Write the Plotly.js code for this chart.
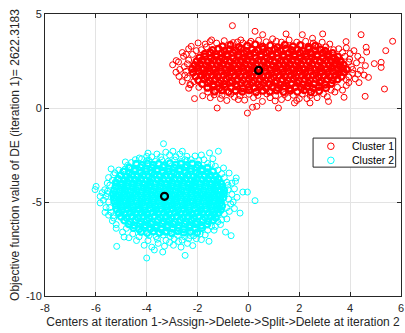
<!DOCTYPE html>
<html>
<head>
<meta charset="utf-8">
<script src="https://cdn.plot.ly/plotly-3.0.1.min.js"></script>
<style>html,body{margin:0;padding:0;background:#fff;}#chart{width:405px;height:333px;}</style>
</head>
<body>
<div id="chart"></div>
<script>
// Cluster 1: dense core points [x, y]
const cluster1Core = [
[-1.02,3.28],[-0.71,3.35],[-0.38,3.24],[-0.05,3.31],[0.27,3.38],[0.55,3.26],[0.86,3.33],[1.14,3.22],[1.43,3.36],[1.75,3.27],[2.04,3.34],[2.36,3.25],[2.63,3.31],
[-1.41,3.08],[-1.18,3.15],[-0.95,3.04],[-0.74,3.12],[-0.52,3.06],[-0.29,3.16],[-0.08,3.03],[0.14,3.11],[0.37,3.07],[0.58,3.14],[0.81,3.02],[1.03,3.13],[1.26,3.05],[1.47,3.16],[1.69,3.08],[1.92,3.12],[2.15,3.03],[2.38,3.14],[2.61,3.07],[2.84,3.11],[3.02,3.04],
[-1.72,2.88],[-1.49,2.94],[-1.27,2.85],[-1.06,2.92],[-0.84,2.87],[-0.61,2.95],[-0.40,2.84],[-0.18,2.91],[0.05,2.88],[0.26,2.96],[0.49,2.85],[0.71,2.93],[0.92,2.87],[1.15,2.95],[1.37,2.84],[1.58,2.92],[1.81,2.86],[2.03,2.94],[2.26,2.88],[2.47,2.91],[2.70,2.85],[2.92,2.93],[3.13,2.87],[3.31,2.92],
[-1.93,2.68],[-1.71,2.74],[-1.48,2.66],[-1.26,2.72],[-1.05,2.67],[-0.83,2.75],[-0.60,2.64],[-0.39,2.71],[-0.17,2.68],[0.06,2.74],[0.28,2.65],[0.50,2.73],[0.72,2.67],[0.93,2.75],[1.16,2.64],[1.38,2.72],[1.60,2.68],[1.83,2.74],[2.04,2.66],[2.27,2.72],[2.49,2.69],[2.71,2.75],[2.93,2.65],[3.15,2.71],[3.36,2.68],[3.52,2.73],
[-2.04,2.48],[-1.82,2.54],[-1.59,2.46],[-1.37,2.53],[-1.15,2.47],[-0.94,2.55],[-0.71,2.45],[-0.49,2.52],[-0.28,2.48],[-0.05,2.54],[0.17,2.46],[0.39,2.53],[0.61,2.47],[0.83,2.55],[1.05,2.44],[1.27,2.52],[1.49,2.48],[1.72,2.54],[1.94,2.46],[2.16,2.53],[2.38,2.47],[2.60,2.55],[2.82,2.45],[3.04,2.52],[3.26,2.48],[3.47,2.53],[3.63,2.46],
[-2.12,2.28],[-1.90,2.34],[-1.67,2.26],[-1.45,2.33],[-1.23,2.27],[-1.01,2.35],[-0.79,2.25],[-0.57,2.32],[-0.35,2.28],[-0.13,2.34],[0.09,2.26],[0.31,2.33],[0.53,2.27],[0.75,2.35],[0.97,2.24],[1.19,2.32],[1.41,2.28],[1.63,2.34],[1.85,2.26],[2.07,2.33],[2.29,2.27],[2.51,2.35],[2.73,2.25],[2.95,2.32],[3.17,2.28],[3.39,2.34],[3.58,2.26],[3.74,2.31],
[-2.21,2.08],[-1.98,2.14],[-1.76,2.06],[-1.54,2.13],[-1.32,2.07],[-1.10,2.15],[-0.88,2.05],[-0.66,2.12],[-0.44,2.08],[-0.22,2.14],[0.00,2.06],[0.22,2.13],[0.44,2.07],[0.66,2.15],[0.88,2.04],[1.10,2.12],[1.32,2.08],[1.54,2.14],[1.76,2.06],[1.98,2.13],[2.20,2.07],[2.42,2.15],[2.64,2.05],[2.86,2.12],[3.08,2.08],[3.30,2.14],[3.52,2.06],[3.71,2.11],[3.86,2.05],
[-2.18,1.88],[-1.96,1.94],[-1.73,1.86],[-1.51,1.93],[-1.29,1.87],[-1.07,1.95],[-0.85,1.85],[-0.63,1.92],[-0.41,1.88],[-0.19,1.94],[0.03,1.86],[0.25,1.93],[0.47,1.87],[0.69,1.95],[0.91,1.84],[1.13,1.92],[1.35,1.88],[1.57,1.94],[1.79,1.86],[2.01,1.93],[2.23,1.87],[2.45,1.95],[2.67,1.85],[2.89,1.92],[3.11,1.88],[3.33,1.94],[3.55,1.86],[3.76,1.91],
[-2.08,1.68],[-1.86,1.74],[-1.64,1.66],[-1.42,1.73],[-1.20,1.67],[-0.98,1.75],[-0.76,1.65],[-0.54,1.72],[-0.32,1.68],[-0.10,1.74],[0.12,1.66],[0.34,1.73],[0.56,1.67],[0.78,1.75],[1.00,1.64],[1.22,1.72],[1.44,1.68],[1.66,1.74],[1.88,1.66],[2.10,1.73],[2.32,1.67],[2.54,1.75],[2.76,1.65],[2.98,1.72],[3.20,1.68],[3.42,1.74],[3.66,1.67],
[-1.97,1.48],[-1.75,1.54],[-1.53,1.46],[-1.31,1.53],[-1.09,1.47],[-0.87,1.55],[-0.65,1.45],[-0.43,1.52],[-0.21,1.48],[0.01,1.54],[0.23,1.46],[0.45,1.53],[0.67,1.47],[0.89,1.55],[1.11,1.44],[1.33,1.52],[1.55,1.48],[1.77,1.54],[1.99,1.46],[2.21,1.53],[2.43,1.47],[2.65,1.55],[2.87,1.45],[3.09,1.52],[3.31,1.48],[3.50,1.53],
[-1.82,1.28],[-1.60,1.34],[-1.38,1.26],[-1.16,1.33],[-0.94,1.27],[-0.72,1.35],[-0.50,1.25],[-0.28,1.32],[-0.06,1.28],[0.16,1.34],[0.38,1.26],[0.60,1.33],[0.82,1.27],[1.04,1.35],[1.26,1.24],[1.48,1.32],[1.70,1.28],[1.92,1.34],[2.14,1.26],[2.36,1.33],[2.58,1.27],[2.80,1.35],[3.02,1.25],[3.27,1.31],
[-1.61,1.08],[-1.37,1.14],[-1.14,1.06],[-0.91,1.13],[-0.68,1.07],[-0.45,1.15],[-0.22,1.05],[0.01,1.12],[0.24,1.08],[0.47,1.14],[0.70,1.06],[0.93,1.13],[1.16,1.07],[1.39,1.15],[1.62,1.04],[1.85,1.12],[2.08,1.08],[2.31,1.14],[2.54,1.06],[2.77,1.13],[3.05,1.07],
[-1.33,0.88],[-1.05,0.94],[-0.78,0.86],[-0.51,0.93],[-0.24,0.87],[0.03,0.95],[0.30,0.85],[0.57,0.92],[0.84,0.88],[1.11,0.94],[1.38,0.86],[1.65,0.93],[1.92,0.87],[2.19,0.95],[2.46,0.85],[2.78,0.91]
];
// Cluster 1: fringe and outlier points [x, y]
const cluster1Outer = [
[-1.04,0.68],[-0.69,0.74],[-0.33,0.66],[0.02,0.73],[0.37,0.67],[0.72,0.75],[1.07,0.65],[1.42,0.72],[1.77,0.68],[2.12,0.74],[2.43,0.66],
[-1.45,3.62],[-0.95,3.58],[-0.60,3.48],[-0.30,3.62],[0.05,3.45],[0.40,3.60],[0.70,3.52],[0.95,3.68],[1.30,3.50],[1.60,3.62],[2.25,3.55],[2.55,3.45],[2.75,3.28],[3.05,3.25],[3.35,3.10],[-1.85,3.10],[-1.70,3.40],
[-1.60,0.85],[-1.35,0.70],[-1.10,0.50],[-0.55,0.58],[-0.15,0.42],[0.20,0.55],[0.85,0.55],[1.05,0.38],[1.55,0.55],[1.90,0.40],[2.30,0.50],[2.60,0.80],[2.95,0.75],[3.25,0.95],[3.50,1.10],[-1.95,1.10],[-2.15,1.40],
[-2.40,2.35],[-2.50,1.75],[-2.35,1.05],[-2.75,2.45],[-2.60,2.95],[-2.35,3.15],[-2.85,1.90],[-2.45,2.85],
[3.80,2.75],[3.95,2.45],[4.10,2.05],[3.95,1.65],[3.85,1.20],[4.30,2.75],[4.35,1.35],[4.15,3.05],[3.70,2.95],[3.85,1.50],[4.45,2.55],[4.30,1.80],
[-2.45,1.95],[-2.52,2.20],[-2.40,1.60],[-2.60,1.40],[-2.35,2.55],[-2.55,2.75],[-2.70,2.05],[-2.30,1.25],[4.05,2.20],[4.10,1.85],[3.98,2.60],[4.25,2.40],[4.20,1.55],[4.40,2.00],[3.95,1.35],[4.00,2.90],[3.85,3.20],[3.70,0.95],[3.40,0.85],[3.55,3.15],[4.55,1.75],[4.60,2.25],[3.20,3.40],[2.90,3.50],[-1.80,0.65],[-1.50,0.55],[-0.85,0.40],[-0.40,0.45],[0.55,0.35],[1.30,0.45],[2.00,0.50],[2.70,0.55],[3.10,0.60],[-1.25,3.45],[-1.65,3.25],[0.10,3.55],[1.10,3.55],[1.90,3.50],[-2.05,3.05],[-2.20,2.85],
[-0.63,4.38],[0.26,4.08],[0.56,3.90],[1.48,3.94],[2.12,3.90],[2.92,3.94],[4.43,3.90],[5.67,3.55],[5.40,3.05],[4.63,3.23],[4.65,2.98],[3.84,3.53],[2.52,3.71],[4.95,2.36],[5.22,2.43],[5.22,2.16],[4.72,1.63],[5.35,1.01],[4.59,0.62],[3.76,0.57],[3.15,0.35],[2.42,0.27],[1.81,0.27],[1.18,0.00],[0.33,0.09],[0.16,0.04],[-0.04,-0.27],[-1.23,0.00],[-2.12,0.50],[-2.27,1.24],[-2.73,1.68],[-2.98,2.30],[-2.84,2.52],[-2.25,3.28],[-1.98,3.46],[-1.51,3.53],[-0.43,3.51],[-0.22,3.46]
];
// Cluster 2: dense core points [x, y]
const cluster2Core = [
[-4.41,-2.98],[-4.19,-3.04],[-3.97,-2.96],[-3.75,-3.03],[-3.53,-2.97],[-3.31,-3.05],[-3.09,-2.95],[-2.87,-3.02],[-2.65,-2.98],[-2.43,-3.04],[-2.21,-2.96],[-1.98,-3.03],
[-4.68,-3.18],[-4.46,-3.24],[-4.24,-3.16],[-4.02,-3.23],[-3.80,-3.17],[-3.58,-3.25],[-3.36,-3.15],[-3.14,-3.22],[-2.92,-3.18],[-2.70,-3.24],[-2.48,-3.16],[-2.26,-3.23],[-2.04,-3.17],[-1.82,-3.25],[-1.61,-3.19],
[-4.91,-3.38],[-4.69,-3.44],[-4.47,-3.36],[-4.25,-3.43],[-4.03,-3.37],[-3.81,-3.45],[-3.59,-3.35],[-3.37,-3.42],[-3.15,-3.38],[-2.93,-3.44],[-2.71,-3.36],[-2.49,-3.43],[-2.27,-3.37],[-2.05,-3.45],[-1.83,-3.35],[-1.61,-3.42],[-1.40,-3.38],
[-5.02,-3.58],[-4.80,-3.64],[-4.58,-3.56],[-4.36,-3.63],[-4.14,-3.57],[-3.92,-3.65],[-3.70,-3.55],[-3.48,-3.62],[-3.26,-3.58],[-3.04,-3.64],[-2.82,-3.56],[-2.60,-3.63],[-2.38,-3.57],[-2.16,-3.65],[-1.94,-3.55],[-1.72,-3.62],[-1.50,-3.58],[-1.29,-3.63],
[-5.11,-3.78],[-4.89,-3.84],[-4.67,-3.76],[-4.45,-3.83],[-4.23,-3.77],[-4.01,-3.85],[-3.79,-3.75],[-3.57,-3.82],[-3.35,-3.78],[-3.13,-3.84],[-2.91,-3.76],[-2.69,-3.83],[-2.47,-3.77],[-2.25,-3.85],[-2.03,-3.75],[-1.81,-3.82],[-1.59,-3.78],[-1.37,-3.84],[-1.18,-3.77],
[-5.19,-3.98],[-4.97,-4.04],[-4.75,-3.96],[-4.53,-4.03],[-4.31,-3.97],[-4.09,-4.05],[-3.87,-3.95],[-3.65,-4.02],[-3.43,-3.98],[-3.21,-4.04],[-2.99,-3.96],[-2.77,-4.03],[-2.55,-3.97],[-2.33,-4.05],[-2.11,-3.95],[-1.89,-4.02],[-1.67,-3.98],[-1.45,-4.04],[-1.23,-3.96],[-1.08,-4.03],
[-5.22,-4.18],[-5.00,-4.24],[-4.78,-4.16],[-4.56,-4.23],[-4.34,-4.17],[-4.12,-4.25],[-3.90,-4.15],[-3.68,-4.22],[-3.46,-4.18],[-3.24,-4.24],[-3.02,-4.16],[-2.80,-4.23],[-2.58,-4.17],[-2.36,-4.25],[-2.14,-4.15],[-1.92,-4.22],[-1.70,-4.18],[-1.48,-4.24],[-1.26,-4.16],[-1.03,-4.21],
[-5.28,-4.38],[-5.06,-4.44],[-4.84,-4.36],[-4.62,-4.43],[-4.40,-4.37],[-4.18,-4.45],[-3.96,-4.35],[-3.74,-4.42],[-3.52,-4.38],[-3.30,-4.44],[-3.08,-4.36],[-2.86,-4.43],[-2.64,-4.37],[-2.42,-4.45],[-2.20,-4.35],[-1.98,-4.42],[-1.76,-4.38],[-1.54,-4.44],[-1.32,-4.36],[-1.10,-4.43],[-0.96,-4.38],
[-5.31,-4.58],[-5.09,-4.64],[-4.87,-4.56],[-4.65,-4.63],[-4.43,-4.57],[-4.21,-4.65],[-3.99,-4.55],[-3.77,-4.62],[-3.55,-4.58],[-3.33,-4.64],[-3.11,-4.56],[-2.89,-4.63],[-2.67,-4.57],[-2.45,-4.65],[-2.23,-4.55],[-2.01,-4.62],[-1.79,-4.58],[-1.57,-4.64],[-1.35,-4.56],[-1.13,-4.63],[-0.97,-4.57],
[-5.29,-4.78],[-5.07,-4.84],[-4.85,-4.76],[-4.63,-4.83],[-4.41,-4.77],[-4.19,-4.85],[-3.97,-4.75],[-3.75,-4.82],[-3.53,-4.78],[-3.31,-4.84],[-3.09,-4.76],[-2.87,-4.83],[-2.65,-4.77],[-2.43,-4.85],[-2.21,-4.75],[-1.99,-4.82],[-1.77,-4.78],[-1.55,-4.84],[-1.33,-4.76],[-1.11,-4.83],[-0.99,-4.77],
[-5.27,-4.98],[-5.05,-5.04],[-4.83,-4.96],[-4.61,-5.03],[-4.39,-4.97],[-4.17,-5.05],[-3.95,-4.95],[-3.73,-5.02],[-3.51,-4.98],[-3.29,-5.04],[-3.07,-4.96],[-2.85,-5.03],[-2.63,-4.97],[-2.41,-5.05],[-2.19,-4.95],[-1.97,-5.02],[-1.75,-4.98],[-1.53,-5.04],[-1.31,-4.96],[-1.09,-5.03],
[-5.21,-5.18],[-4.99,-5.24],[-4.77,-5.16],[-4.55,-5.23],[-4.33,-5.17],[-4.11,-5.25],[-3.89,-5.15],[-3.67,-5.22],[-3.45,-5.18],[-3.23,-5.24],[-3.01,-5.16],[-2.79,-5.23],[-2.57,-5.17],[-2.35,-5.25],[-2.13,-5.15],[-1.91,-5.22],[-1.69,-5.18],[-1.47,-5.24],[-1.25,-5.16],[-1.04,-5.21],
[-5.18,-5.38],[-4.96,-5.44],[-4.74,-5.36],[-4.52,-5.43],[-4.30,-5.37],[-4.08,-5.45],[-3.86,-5.35],[-3.64,-5.42],[-3.42,-5.38],[-3.20,-5.44],[-2.98,-5.36],[-2.76,-5.43],[-2.54,-5.37],[-2.32,-5.45],[-2.10,-5.35],[-1.88,-5.42],[-1.66,-5.38],[-1.44,-5.44],[-1.22,-5.36],[-1.09,-5.42],
[-5.09,-5.58],[-4.87,-5.64],[-4.65,-5.56],[-4.43,-5.63],[-4.21,-5.57],[-3.99,-5.65],[-3.77,-5.55],[-3.55,-5.62],[-3.33,-5.58],[-3.11,-5.64],[-2.89,-5.56],[-2.67,-5.63],[-2.45,-5.57],[-2.23,-5.65],[-2.01,-5.55],[-1.79,-5.62],[-1.57,-5.58],[-1.35,-5.64],[-1.18,-5.57],
[-5.01,-5.78],[-4.79,-5.84],[-4.57,-5.76],[-4.35,-5.83],[-4.13,-5.77],[-3.91,-5.85],[-3.69,-5.75],[-3.47,-5.82],[-3.25,-5.78],[-3.03,-5.84],[-2.81,-5.76],[-2.59,-5.83],[-2.37,-5.77],[-2.15,-5.85],[-1.93,-5.75],[-1.71,-5.82],[-1.49,-5.78],[-1.29,-5.83],
[-4.88,-5.98],[-4.66,-6.04],[-4.44,-5.96],[-4.22,-6.03],[-4.00,-5.97],[-3.78,-6.05],[-3.56,-5.95],[-3.34,-6.02],[-3.12,-5.98],[-2.90,-6.04],[-2.68,-5.96],[-2.46,-6.03],[-2.24,-5.97],[-2.02,-6.05],[-1.80,-5.95],[-1.58,-6.02],[-1.39,-5.97],
[-4.71,-6.18],[-4.49,-6.24],[-4.27,-6.16],[-4.05,-6.23],[-3.83,-6.17],[-3.61,-6.25],[-3.39,-6.15],[-3.17,-6.22],[-2.95,-6.18],[-2.73,-6.24],[-2.51,-6.16],[-2.29,-6.23],[-2.07,-6.17],[-1.85,-6.25],[-1.62,-6.19],
[-4.52,-6.38],[-4.30,-6.44],[-4.08,-6.36],[-3.86,-6.43],[-3.64,-6.37],[-3.42,-6.45],[-3.20,-6.35],[-2.98,-6.42],[-2.76,-6.38],[-2.54,-6.44],[-2.32,-6.36],[-2.10,-6.43],[-1.83,-6.38],
[-4.22,-6.58],[-3.98,-6.64],[-3.74,-6.56],[-3.50,-6.63],[-3.26,-6.57],[-3.02,-6.65],[-2.78,-6.55],[-2.54,-6.62],[-2.28,-6.58],[-2.02,-6.63]
];
// Cluster 2: fringe and outlier points [x, y]
const cluster2Outer = [
[-3.92,-2.78],[-3.66,-2.84],[-3.41,-2.76],[-3.15,-2.83],[-2.90,-2.77],[-2.64,-2.85],[-2.41,-2.79],
[-3.91,-6.78],[-3.63,-6.84],[-3.35,-6.76],[-3.07,-6.83],[-2.79,-6.77],[-2.51,-6.85],[-2.28,-6.79],
[-3.58,-6.98],[-3.24,-7.04],[-2.92,-6.96],[-2.61,-7.03],
[-4.60,-2.90],[-4.20,-2.70],[-3.80,-2.60],[-3.45,-2.60],[-3.25,-2.35],[-2.85,-2.60],[-2.50,-2.75],[-2.25,-2.75],[-1.95,-2.80],[-1.60,-2.95],[-1.30,-3.10],[-4.85,-3.25],[-3.95,-2.40],[-2.60,-2.30],[-1.85,-2.50],[-1.40,-2.70],
[-4.55,-6.70],[-4.30,-6.85],[-3.95,-7.05],[-3.55,-7.20],[-3.10,-7.15],[-2.75,-7.10],[-2.35,-6.95],[-2.15,-6.80],[-1.90,-6.70],[-1.60,-6.50],[-1.45,-6.30],[-4.80,-6.40],[-3.70,-7.55],[-2.65,-7.40],[-1.85,-7.00],
[-5.45,-4.10],[-5.55,-4.55],[-5.50,-5.00],[-5.40,-5.55],[-5.30,-5.85],[-5.35,-3.85],[-5.20,-6.20],[-5.70,-4.90],[-5.75,-4.50],[-5.60,-5.30],[-5.25,-3.45],
[-0.85,-3.95],[-0.80,-4.35],[-0.78,-4.85],[-0.85,-5.30],[-0.95,-5.65],[-1.05,-5.95],[-1.20,-6.05],[-0.60,-5.00],[-0.55,-5.35],[-1.05,-3.50],[-0.65,-4.00],[-0.45,-4.75],[-1.30,-6.30],
[-5.55,-4.00],[-5.60,-4.70],[-5.45,-5.30],[-5.50,-3.70],[-5.35,-6.00],[-5.20,-6.40],[-4.95,-6.60],[-4.70,-6.90],[-4.40,-7.05],[-4.10,-7.30],[-3.80,-7.40],[-3.30,-7.35],[-2.95,-7.30],[-2.40,-7.20],[-2.05,-6.95],[-1.70,-6.75],[-1.35,-6.50],[-1.10,-6.20],[-0.85,-5.90],[-0.75,-5.50],[-0.70,-5.10],[-0.65,-4.60],[-0.80,-4.10],[-0.95,-3.70],[-1.20,-3.30],[-1.45,-3.00],[-1.75,-2.75],[-2.10,-2.55],[-2.70,-2.45],[-3.10,-2.50],[-3.60,-2.45],[-4.00,-2.80],[-4.45,-2.75],[-4.75,-3.05],[-5.10,-3.30],[-5.30,-3.55],[-5.65,-4.35],[-5.50,-5.70],[-0.90,-6.60],[-0.55,-4.30],
[-3.34,-1.90],[-2.97,-2.30],[-1.18,-2.30],[-1.53,-2.39],[-2.42,-2.57],[-4.00,-2.57],[-4.29,-2.66],[-5.40,-3.24],[-4.84,-2.87],[-5.99,-4.17],[-6.03,-4.34],[-5.83,-4.70],[-5.83,-5.05],[-5.64,-5.55],[-5.31,-5.73],[-5.18,-7.36],[-4.89,-6.86],[-4.00,-7.98],[-3.37,-7.66],[-2.49,-7.84],[-2.19,-7.32],[-1.55,-7.09],[-0.68,-6.79],[-0.33,-5.59],[0.26,-4.93],[-0.04,-4.47],[-0.22,-4.47],[-0.51,-3.90],[-0.48,-3.72],[-0.76,-3.46],[-0.98,-3.19],[-5.54,-4.43],[-5.24,-3.95]
];
const centersX = [0.4, -3.3];
const centersY = [2.0, -4.7];
const seriesNames = ["Cluster 1", "Cluster 2"];
const seriesColors = ['#ff0000', '#00ffff'];
const xTicks = [-8, -6, -4, -2, 0, 2, 4, 6];
const yTicks = [-10, -5, 0, 5];

const mk = (color, lw) => ({symbol: 'circle-open', size: 6, color: color, line: {width: lw, color: color}});
const pts = (arr, color, lw) => ({type: 'scatter', mode: 'markers', showlegend: false,
  x: arr.map(p => p[0]), y: arr.map(p => p[1]), marker: mk(color, lw)});
const traces = [
  pts(cluster1Core, seriesColors[0], 2.3),
  pts(cluster1Outer, seriesColors[0], 1),
  pts(cluster2Core, seriesColors[1], 2.3),
  pts(cluster2Outer, seriesColors[1], 1),
  {type: 'scatter', mode: 'markers', showlegend: false, x: centersX, y: centersY,
   marker: {symbol: 'circle-open', size: 7, color: '#000', line: {width: 2.2, color: '#000'}}}
];
const font = {family: 'Liberation Sans, Arial, sans-serif', size: 11, color: '#262626'};
const axisCommon = {
  showline: true, linecolor: '#262626', linewidth: 1, mirror: 'ticks',
  ticks: 'inside', ticklen: 4, tickcolor: '#262626',
  showgrid: true, gridcolor: '#e3e3e3', gridwidth: 1, zeroline: false,
  tickfont: font, tickmode: 'array'
};
// legend box drawn in paper coordinates
const legX0 = 0.753, legX1 = 0.985, legY0 = 0.457, legY1 = 0.560;
const legRows = [0.531, 0.481];
const shapes = [
  {type: 'rect', xref: 'paper', yref: 'paper', x0: legX0, x1: legX1, y0: legY0, y1: legY1,
   line: {color: '#262626', width: 1}, fillcolor: '#ffffff', layer: 'above'}
];
const annotations = [];
seriesNames.forEach((name, i) => {
  shapes.push({type: 'circle', xref: 'paper', yref: 'paper', xsizemode: 'pixel', ysizemode: 'pixel',
    xanchor: 0.803, yanchor: legRows[i], x0: -3.3, x1: 3.3, y0: -3.3, y1: 3.3,
    line: {color: seriesColors[i], width: 1}, layer: 'above'});
  annotations.push({xref: 'paper', yref: 'paper', x: 0.858, y: legRows[i], xanchor: 'left', yanchor: 'middle',
    text: name, showarrow: false, font: {family: 'Liberation Sans, Arial, sans-serif', size: 10.5, color: '#000'}});
});
const layout = {
  width: 405, height: 333,
  margin: {l: 45, r: 4, t: 14, b: 37},
  paper_bgcolor: '#fff', plot_bgcolor: '#fff',
  showlegend: false,
  hovermode: false,
  font: font,
  shapes: shapes,
  annotations: annotations,
  xaxis: Object.assign({}, axisCommon, {range: [-8, 6], tickvals: xTicks, ticktext: xTicks.map(String), ticklabelstandoff: 2,
    title: {text: 'Centers at iteration 1->Assign->Delete->Split->Delete at iteration 2',
      font: {family: 'Liberation Sans, Arial, sans-serif', size: 12, color: '#262626'}, standoff: 4}}),
  yaxis: Object.assign({}, axisCommon, {range: [-10, 5], tickvals: yTicks, ticktext: yTicks.map(String),
    title: {text: 'Objective function value of DE (iteration 1)= 2622.3183',
      font: {family: 'Liberation Sans, Arial, sans-serif', size: 12, color: '#262626'}, standoff: 3}})
};
Plotly.newPlot('chart', traces, layout, {staticPlot: true, displayModeBar: false});
</script>
</body>
</html>
